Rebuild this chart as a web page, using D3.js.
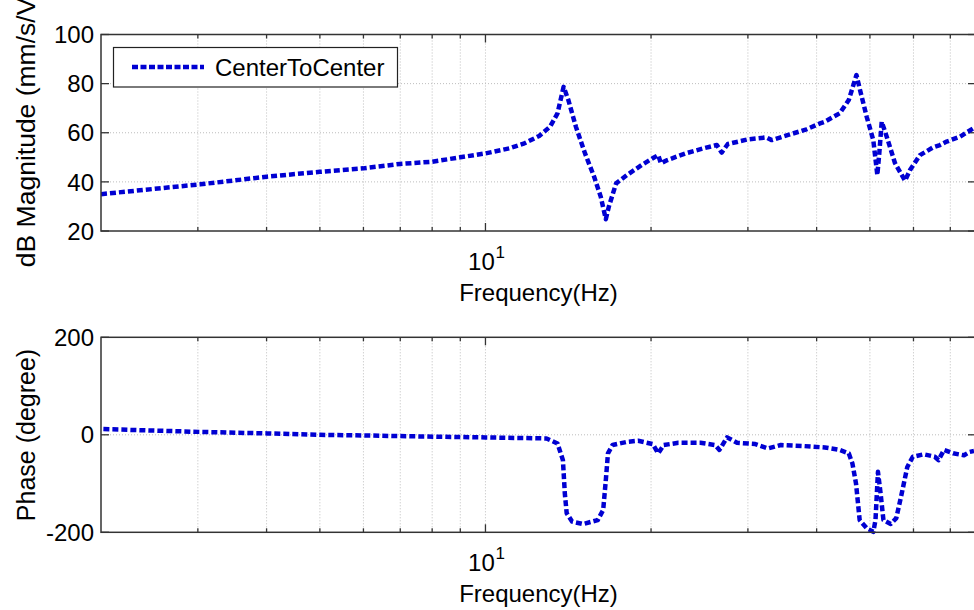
<!DOCTYPE html>
<html>
<head>
<meta charset="utf-8">
<script src="https://cdn.jsdelivr.net/npm/d3@7/dist/d3.min.js"></script>
<style>
body{margin:0;background:#fff}
svg{display:block}
text{font-family:Arial,"Liberation Sans",Helvetica,sans-serif;fill:#000}
</style>
</head>
<body>
<div id="chart"></div>
<script>
// magnitude curve (Hz, dB)
var magFreq = [2.0,3.03,4.0,5.0,5.99,6.99,7.99,9.0,10,11.07,11.77,12.52,13.11,13.52,13.87,14.15,14.6,15.17,15.76,16.2,16.55,16.76,17.28,18.09,19.24,20.14,20.61,20.84,21.42,23.12,24.96,26.34,26.88,27.58,30.01,32.41,33.16,35.52,38.35,40.57,41.41,44.04,45.76,47.26,47.97,49.33,50.71,51.57,52.0,52.53,53.64,55.54,57.91,59.14,61.66,65.19,67.05,68.95,72.9,77.3]
var magDb = [35,39,42.1,44.1,45.5,47.3,48.2,50,51.6,53.7,55.7,58.7,62.5,67.9,78.7,73.3,62.5,51.6,42.1,34,24.8,29.9,39.4,42.8,46.9,49.6,50.9,47.6,48.9,51.6,53.7,55,51.9,55.4,57.3,58.1,57,59.1,61.4,63.8,64.5,67.9,73.3,83.5,77.4,66.5,57,42.8,51.6,64.5,58.4,47.6,40.5,44.8,50.9,54.1,55,56.4,58.4,62]

// phase curve (Hz, degree)
var phaseFreq = [2.02,3.01,4.01,5.0,5.99,6.99,10,12.91,13.52,13.83,13.94,14.05,14.37,15.05,16.0,16.37,16.55,16.7,17.02,18.09,18.95,20.14,20.61,21.09,22.42,24.59,26.14,26.63,27.5,28.67,30.94,32.64,34.44,37.76,41.41,44.04,45.76,46.47,47.17,47.9,49.39,50.71,51.18,51.71,52.28,52.91,54.55,55.83,57.13,58.47,59.83,62.65,65.6,66.62,68.17,70.82,74.13,75.89,77.3]
var phaseDeg = [11.7,6,2.9,0,-1.3,-2.7,-5.4,-7.5,-17.7,-52,-120,-161,-178,-183,-175,-154,-93,-38,-21,-14.4,-12.3,-19,-38,-21,-16.4,-16.4,-21,-31,-5.3,-16.4,-19,-28,-21,-23,-26,-31,-38,-59,-100,-175,-192,-199,-175,-76,-120,-175,-183,-171,-120,-66,-45,-40,-45,-52,-31,-38,-42,-35,-33]

var xMinorTicks = [3,4,5,6,7,8,9,20,30,40,50,60,70]
var xMajorTicks = [10]
var magTicks = [20,40,60,80,100]
var phaseTicks = [-200,0,200]
var seriesName = "CenterToCenter"

var width = 974, height = 610
var left = 101, right = 976
var lineColor = "#0000d2"
var fontSize = 24

var svg = d3.select("#chart").append("svg").attr("width",width).attr("height",height)

var x = d3.scaleLog().domain([2,77.95]).range([left,right])

function drawPanel(top,bottom,yDomain,yTicks,freq,vals,yLabel,labelSize,labelY,clipId){
    var y = d3.scaleLinear().domain(yDomain).range([bottom,top])
    var g = svg.append("g")

    g.append("rect").attr("x",left).attr("y",top).attr("width",right-left).attr("height",bottom-top)
        .style("fill","#fff")

    // grid
    var allX = xMinorTicks.concat(xMajorTicks)
    g.selectAll(".vgrid").data(allX).enter().append("line")
        .attr("x1",function(d){return x(d)}).attr("x2",function(d){return x(d)})
        .attr("y1",top).attr("y2",bottom)
        .style("stroke","#bdbdbd").style("stroke-width",1).style("stroke-dasharray","1,2")
    g.selectAll(".hgrid").data(yTicks.slice(1,-1)).enter().append("line")
        .attr("x1",left).attr("x2",right)
        .attr("y1",function(d){return y(d)}).attr("y2",function(d){return y(d)})
        .style("stroke","#bdbdbd").style("stroke-width",1).style("stroke-dasharray","1,2")

    // ticks, pointing in
    var ticks = xMinorTicks.map(function(d){return [d,4]}).concat(xMajorTicks.map(function(d){return [d,8]}))
    ticks.forEach(function(t){
        g.append("line").attr("x1",x(t[0])).attr("x2",x(t[0])).attr("y1",bottom).attr("y2",bottom-t[1])
            .style("stroke","#333").style("stroke-width",1.3)
        g.append("line").attr("x1",x(t[0])).attr("x2",x(t[0])).attr("y1",top).attr("y2",top+t[1])
            .style("stroke","#333").style("stroke-width",1.3)
    })
    yTicks.forEach(function(v){
        g.append("line").attr("x1",left).attr("x2",left+8).attr("y1",y(v)).attr("y2",y(v))
            .style("stroke","#333").style("stroke-width",1.3)
        g.append("line").attr("x1",right-8).attr("x2",right).attr("y1",y(v)).attr("y2",y(v))
            .style("stroke","#333").style("stroke-width",1.3)
        g.append("text").attr("x",left-7).attr("y",y(v)).attr("dy","0.36em")
            .attr("text-anchor","end").style("font-size",fontSize+"px").text(v)
    })

    // data line
    svg.append("clipPath").attr("id",clipId).append("rect")
        .attr("x",left).attr("y",top-3).attr("width",right-left).attr("height",bottom-top+6)
    var line = d3.line().x(function(d){return x(d[0])}).y(function(d){return y(d[1])})
    g.append("path").datum(d3.zip(freq,vals))
        .attr("clip-path","url(#"+clipId+")")
        .attr("d",line)
        .style("fill","none").style("stroke",lineColor).style("stroke-width",4.5)
        .style("stroke-dasharray","6,3").style("stroke-linejoin","round")

    // frame
    g.append("rect").attr("x",left).attr("y",top).attr("width",right-left).attr("height",bottom-top)
        .style("fill","none").style("stroke","#333").style("stroke-width",1.5)

    // x tick label 10^1
    g.append("text").attr("x",x(10)-4).attr("y",bottom+39).attr("text-anchor","middle")
        .style("font-size",fontSize+"px").text("10")
    g.append("text").attr("x",x(10)+10).attr("y",bottom+27)
        .style("font-size","17px").text("1")

    g.append("text").attr("x",(left+right)/2).attr("y",bottom+70).attr("text-anchor","middle")
        .style("font-size",fontSize+"px").text("Frequency(Hz)")

    g.append("text").attr("transform","translate(35,"+labelY+") rotate(-90)")
        .attr("text-anchor","middle").style("font-size",labelSize+"px").text(yLabel)
    return g
}

var g1 = drawPanel(34.5,231,[20,100],magTicks,magFreq,magDb,"dB Magnitude (mm/s/V)",26.5,128,"clipMag")
drawPanel(337.3,532.3,[-200,200],phaseTicks,phaseFreq,phaseDeg,"Phase (degree)",25,435,"clipPhase")

// legend
var leg = g1.append("g")
leg.append("rect").attr("x",113.5).attr("y",47.5).attr("width",284).attr("height",39.5)
    .style("fill","#fff").style("stroke","#222").style("stroke-width",1.2)
leg.append("line").attr("x1",132).attr("x2",204).attr("y1",67).attr("y2",67)
    .style("stroke",lineColor).style("stroke-width",4.5).style("stroke-dasharray","6,2.5")
leg.append("text").attr("x",215).attr("y",76).style("font-size",fontSize+"px").text(seriesName)
</script>
</body>
</html>
